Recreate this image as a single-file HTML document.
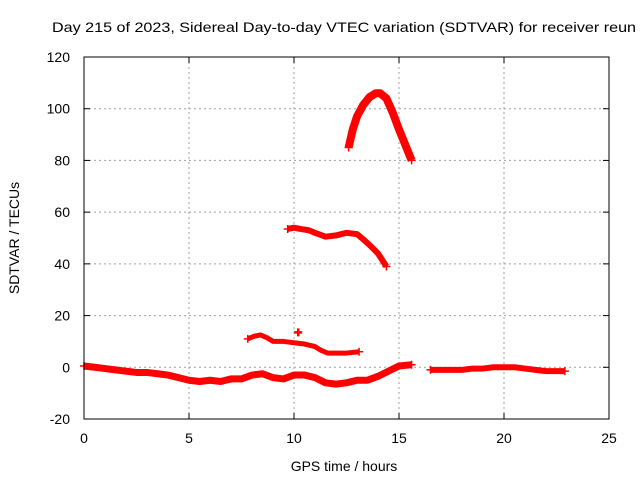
<!DOCTYPE html>
<html><head><meta charset="utf-8"><style>
html,body{margin:0;padding:0;background:#fff}
svg{display:block;font-family:"Liberation Sans",sans-serif}
</style></head><body>
<svg id="chart" width="640" height="480" viewBox="0 0 640 480">
<rect width="640" height="480" fill="#fff"/>
<text x="52" y="32" font-size="14" textLength="584" lengthAdjust="spacingAndGlyphs" fill="#000">Day 215 of 2023, Sidereal Day-to-day VTEC variation (SDTVAR) for receiver reun</text>
<g id="grid"></g>
<g id="ticks"></g>
<g id="series"></g>
<rect x="84" y="57" width="525" height="362" fill="none" stroke="#000" stroke-width="1"/>
<text x="344" y="471" font-size="14" text-anchor="middle">GPS time / hours</text>
<text transform="translate(19,238) rotate(-90)" font-size="14" text-anchor="middle">SDTVAR / TECUs</text>
</svg>
<script>
const xTicks=[0,5,10,15,20,25];
const yTicks=[-20,0,20,40,60,80,100,120];
const track1T=[0,0.5,1,1.5,2,2.5,3,3.5,4,4.5,5,5.5,6,6.5,7,7.5,8,8.5,9,9.5,10,10.5,11,11.5,12,12.5,13,13.5,14,14.5,15,15.6];
const track1V=[0.5,0,-0.5,-1,-1.5,-2,-2,-2.5,-3,-4,-5,-5.5,-5,-5.5,-4.5,-4.5,-3,-2.5,-4,-4.5,-3,-3,-4,-6,-6.5,-6,-5,-5,-3.5,-1.5,0.5,1];
const track2T=[16.5,17,17.5,18,18.5,19,19.5,20,20.5,21,21.5,22,22.5,22.9];
const track2V=[-1,-1,-1,-1,-0.5,-0.5,0,0,0,-0.5,-1,-1.5,-1.5,-1.5];
const track3T=[7.8,8.1,8.4,8.7,9,9.5,10,10.5,11,11.3,11.6,12,12.5,13.1];
const track3V=[11,12,12.5,11.5,10,10,9.5,9,8,6.5,5.5,5.5,5.5,6];
const track4T=[9.7,10,10.3,10.7,11,11.5,12,12.5,13,13.3,13.7,14,14.4];
const track4V=[53.5,54,53.5,53,52,50.5,51,52,51.5,49.5,46.5,44,39];
const track5T=[12.6,12.8,13,13.3,13.6,13.9,14.1,14.4,14.7,15,15.3,15.6];
const track5V=[85,92,97,101.5,104.5,106,106,104,98.5,92,86,80];
const isoT=[10.2];
const isoV=[13.5];
const NS='http://www.w3.org/2000/svg';
const X0=84,X1=609,Y0=419,Y1=57;
function sx(t){return X0+(t-0)/(25-0)*(X1-X0);}
function sy(v){return Y0-(v+20)/140*(Y0-Y1);}
function mk(tag,attrs,parent){const e=document.createElementNS(NS,tag);for(const k in attrs)e.setAttribute(k,attrs[k]);parent.appendChild(e);return e;}
const grid=document.getElementById('grid'),ticks=document.getElementById('ticks'),ser=document.getElementById('series');
xTicks.forEach(t=>{const x=sx(t);
 if(t>0&&t<25){const g=mk('line',{x1:x,x2:x,y1:Y1,y2:Y0,stroke:'#a0a0a0','stroke-dasharray':'2,3'},grid);
 
 }
 mk('line',{x1:x,x2:x,y1:Y0,y2:Y0-6,stroke:'#000'},ticks);mk('line',{x1:x,x2:x,y1:Y1,y2:Y1+6,stroke:'#000'},ticks);
 const l=mk('text',{x:x,y:Y0+24,'font-size':14,'text-anchor':'middle'},ticks);l.textContent=t;
 
 });
yTicks.forEach(v=>{const y=sy(v);
 if(v>-20&&v<120){const g=mk('line',{x1:X0,x2:X1,y1:y,y2:y,stroke:'#a0a0a0','stroke-dasharray':'2,3'},grid);
 
 }
 mk('line',{x1:X0,x2:X0+6,y1:y,y2:y,stroke:'#000'},ticks);mk('line',{x1:X1,x2:X1-6,y1:y,y2:y,stroke:'#000'},ticks);
 const l=mk('text',{x:X0-14,y:y+5,'font-size':14,'text-anchor':'end'},ticks);l.textContent=v;
 
 });
function track(T,V,name,w){
 const pts=T.map((t,i)=>sx(t)+','+sy(V[i])).join(' ');
 const p=mk('polyline',{points:pts,fill:'none',stroke:'#ff0000','stroke-width':w,'stroke-linejoin':'round','stroke-linecap':'butt'},ser);
 
 
 [0,T.length-1].forEach(i=>{const x=sx(T[i]),y=sy(V[i]);
  mk('path',{d:`M${x-4},${y}H${x+4}M${x},${y-4}V${y+4}`,stroke:'#ff0000','stroke-width':1.5},ser);});
}
track(track1T,track1V,'track-low-1',7);
track(track2T,track2V,'track-low-2',6);
track(track3T,track3V,'track-mid',5);
track(track4T,track4V,'track-upper',6);
track(track5T,track5V,'track-peak',8);
isoT.forEach((t,i)=>{const x=sx(t),y=sy(isoV[i]);
 const p=mk('path',{d:`M${x-4},${y}H${x+4}M${x},${y-4}V${y+4}`,stroke:'#ff0000','stroke-width':2.5},ser);
 
 });
</script>
</body></html>
